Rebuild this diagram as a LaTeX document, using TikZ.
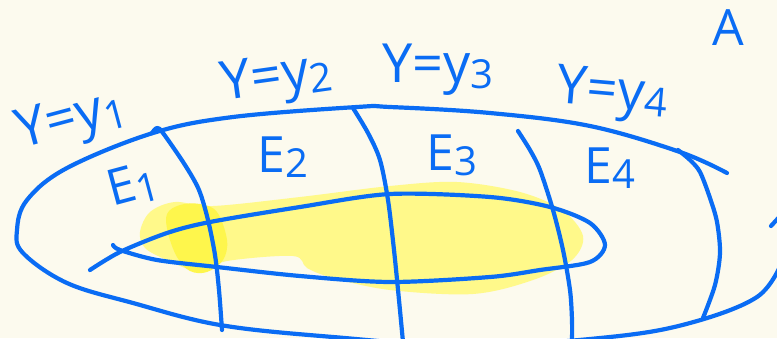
\documentclass[tikz,border=0pt]{standalone}
\usepackage{fontspec}
\setmainfont{Open Sans}
\usetikzlibrary{calc}
\definecolor{pen}{HTML}{0A6CF4}
\definecolor{paper}{HTML}{FCFAEE}
\definecolor{hilite}{HTML}{FFF98A}
\definecolor{hilitedk}{HTML}{FEF64C}
\tikzset{
  ink/.style={draw=pen,line width=4.2pt,line cap=round,line join=round},
  lab/.style={text=pen,font=\fontsize{54}{58}\selectfont,inner sep=0pt},
  labe/.style={text=pen,font=\fontsize{50}{54}\selectfont,inner sep=0pt},
  hl/.style={fill=hilite},
  hldk/.style={fill=hilitedk},
}
\newcommand{\idx}[1]{\raisebox{-0.1em}{\fontsize{40}{42}\selectfont #1}}

\begin{document}
\begin{tikzpicture}[x=1pt,y=-1pt]
  \fill[paper] (0,0) rectangle (777,338);
  \useasboundingbox (0,0) rectangle (777,338);
  \clip (0,0) rectangle (777,338);
  % highlighted set
  \fill[hl] plot[smooth cycle,tension=0.55] coordinates {(140,232) (150,212) (175,202) (213,206)
    (300,197) (390,186) (457,182) (520,192) (562,210) (583,236) (572,260) (533,280)
    (473,294) (390,290) (333,278) (307,268) (293,256) (227,261) (200,272) (167,260) (145,248)};
  \fill[hldk] plot[smooth cycle,tension=0.6] coordinates {(168,233) (167,214) (180,205) (200,204)
    (217,212) (227,240) (223,260) (207,272) (190,271) (177,257)};
  % outer region
  \draw[ink] plot[smooth,tension=0.6] coordinates {(727,173) (680,152) (590,126) (490,113) (390,107)
    (357,107) (233,117) (153,133) (67,168) (27,200) (17,230) (23,253) (67,283) (133,303)
    (220,325) (333,337) (470,346) (610,337) (690,323) (757,297) (782,262)};
  \draw[ink] (771,226) -- (782,214);
  % slices Y=y_i
  \draw[ink] plot[smooth,tension=0.5] coordinates {(152,133) (157,128) (163,133) (185,165) (199,190)
    (208,220) (215,255) (219,290) (222,330)};
  \draw[ink] plot[smooth,tension=0.5] coordinates {(353,108) (368,133) (380,160) (388,200) (394,250)
    (399,300) (403,342)};
  \draw[ink] plot[smooth,tension=0.5] coordinates {(518,131) (530,150) (540,170) (553,210) (563,250)
    (570,290) (572,320) (572,342)};
  \draw[ink] plot[smooth,tension=0.5] coordinates {(678,150) (690,160) (700,172) (710,198) (717,222)
    (720,253) (715,285) (703,318)};
  % inner set
  \draw[ink] plot[smooth,tension=0.5] coordinates {(90,270) (120,252) (167,233) (210,222) (300,207)
    (390,194) (490,197) (550,207) (590,223) (605,245) (590,262) (540,270) (490,277) (390,282)
    (300,276) (217,267) (157,260) (120,250) (113,245)};
  % labels
  \node[lab,rotate=15] (ly1) at (72,122) {Y=y\idx{1}};
  \node[lab,rotate=8] (ly2) at (277,80) {Y=y\idx{2}};
  \node[lab] (ly3) at (438,70) {Y=y\idx{3}};
  \node[lab,rotate=-5] (ly4) at (612,95) {Y=y\idx{4}};
  \node[labe,rotate=15] (le1) at (133,185) {E\idx{1}};
  \node[labe] (le2) at (283,157) {E\idx{2}};
  \node[labe] (le3) at (452,155) {E\idx{3}};
  \node[labe] (le4) at (610,168) {E\idx{4}};
  \node[labe] (la) at (728,28) {A};
\end{tikzpicture}
\end{document}
